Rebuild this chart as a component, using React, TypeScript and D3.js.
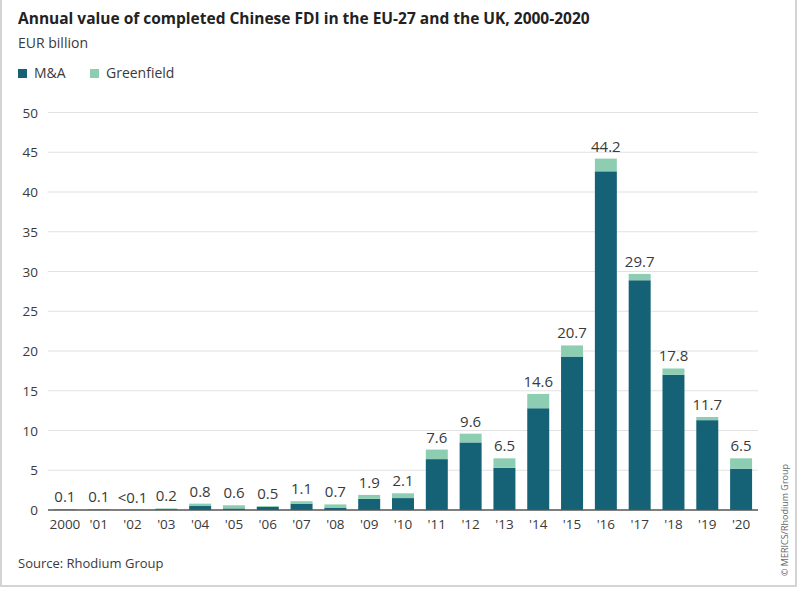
import { useEffect, useRef } from 'react'
import * as d3 from 'd3'

// Completed Chinese FDI in the EU-27 and the UK, EUR billion
const years = ['2000', "'01", "'02", "'03", "'04", "'05", "'06", "'07", "'08", "'09", "'10",
  "'11", "'12", "'13", "'14", "'15", "'16", "'17", "'18", "'19", "'20"]
const mna = [0.05, 0.05, 0.02, 0.1, 0.5, 0.2, 0.4, 0.8, 0.3, 1.4, 1.5,
  6.4, 8.5, 5.3, 12.8, 19.3, 42.6, 28.9, 17.0, 11.3, 5.2]
const greenfield = [0.05, 0.05, 0.02, 0.1, 0.3, 0.4, 0.1, 0.3, 0.4, 0.5, 0.6,
  1.2, 1.1, 1.2, 1.8, 1.4, 1.6, 0.8, 0.8, 0.4, 1.3]
const totalLabels = ['0.1', '0.1', '<0.1', '0.2', '0.8', '0.6', '0.5', '1.1', '0.7', '1.9', '2.1',
  '7.6', '9.6', '6.5', '14.6', '20.7', '44.2', '29.7', '17.8', '11.7', '6.5']
const yTicks = [0, 5, 10, 15, 20, 25, 30, 35, 40, 45, 50]

const W = 800
const H = 591
const FONT = '"Open Sans", "Noto Sans", sans-serif'
const TEXT = '#3a3a3a'
const C_MNA = '#156176'
const C_GF = '#8dceb2'

export default function App() {
  const svgRef = useRef<SVGSVGElement>(null)

  useEffect(() => {
    if (!svgRef.current) return
    const svg = d3.select(svgRef.current)
    svg.selectAll('*').remove()

    const x = d3.scaleBand<string>().domain(years).range([48, 758]).paddingInner(0.35).paddingOuter(0.175)
    const y = d3.scaleLinear().domain([0, 50]).range([510, 112.5])

    // frame
    svg.append('path')
      .attr('d', `M1,0 V586 H796 V0`)
      .attr('fill', 'none')
      .attr('stroke', '#d4d4d4')
      .attr('stroke-width', 2)

    // headings
    svg.append('text').attr('x', 18).attr('y', 24)
      .attr('font-size', 15.5).attr('font-weight', 700).attr('fill', '#222')
      .text('Annual value of completed Chinese FDI in the EU-27 and the UK, 2000-2020')
    svg.append('text').attr('x', 18).attr('y', 48)
      .attr('font-size', 14).attr('fill', TEXT).text('EUR billion')

    // legend
    const legend = svg.append('g').attr('transform', 'translate(18,78)')
    const items = [{ label: 'M&A', color: C_MNA, x: 0 }, { label: 'Greenfield', color: C_GF, x: 72 }]
    items.forEach(it => {
      legend.append('rect').attr('x', it.x).attr('y', -9).attr('width', 9).attr('height', 9).attr('fill', it.color)
      legend.append('text').attr('x', it.x + 16).attr('y', 0).attr('font-size', 14).attr('fill', TEXT).text(it.label)
    })

    // gridlines and y labels
    const grid = svg.append('g')
    yTicks.forEach(t => {
      if (t > 0) {
        grid.append('line').attr('x1', 48).attr('x2', 758).attr('y1', y(t)).attr('y2', y(t))
          .attr('stroke', '#e2e2e2').attr('stroke-width', 1.2)
      }
      grid.append('text').attr('x', 38).attr('y', y(t) + 5).attr('text-anchor', 'end')
        .attr('font-size', 13.5).attr('fill', TEXT).text(t)
    })

    // stacked bars
    const bars = svg.append('g')
    years.forEach((yr, i) => {
      const bx = x(yr) ?? 0
      const top = mna[i] + greenfield[i]
      bars.append('rect').attr('x', bx).attr('width', x.bandwidth())
        .attr('y', y(mna[i])).attr('height', y(0) - y(mna[i])).attr('fill', C_MNA)
      bars.append('rect').attr('x', bx).attr('width', x.bandwidth())
        .attr('y', y(top)).attr('height', y(mna[i]) - y(top)).attr('fill', C_GF)
      bars.append('text').attr('x', bx + x.bandwidth() / 2).attr('y', y(top) - 7)
        .attr('text-anchor', 'middle').attr('font-size', 15).attr('fill', TEXT).text(totalLabels[i])
      svg.append('text').attr('x', bx + x.bandwidth() / 2).attr('y', 529)
        .attr('text-anchor', 'middle').attr('font-size', 13.5).attr('fill', TEXT).text(yr)
    })

    // baseline
    svg.append('line').attr('x1', 48).attr('x2', 758).attr('y1', y(0)).attr('y2', y(0))
      .attr('stroke', '#555').attr('stroke-width', 1.5)

    svg.append('text').attr('x', 18).attr('y', 568)
      .attr('font-size', 13).attr('fill', TEXT).text('Source: Rhodium Group')

    svg.append('text').attr('transform', 'translate(788,520) rotate(-90)')
      .attr('text-anchor', 'middle').attr('font-size', 9).attr('fill', '#666')
      .text('© MERICS/Rhodium Group')
  }, [])

  return (
    <svg ref={svgRef} width={W} height={H}
      style={{ position: 'absolute', left: 0, top: 0, background: '#fff', fontFamily: FONT }} />
  )
}
